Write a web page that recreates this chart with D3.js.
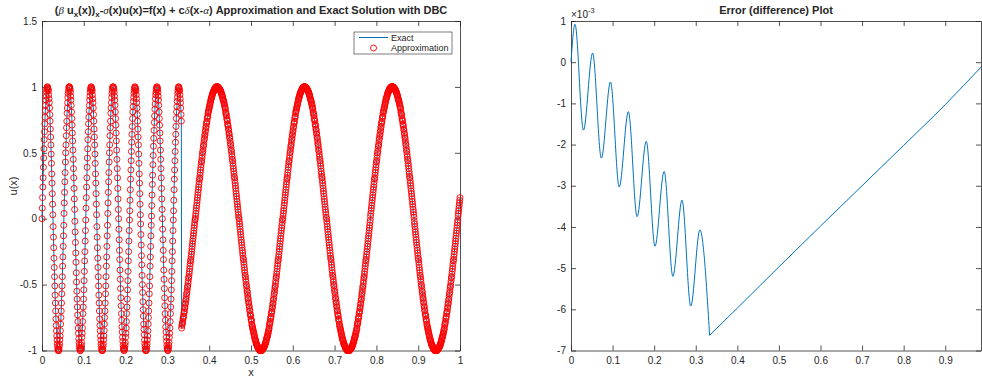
<!DOCTYPE html>
<html>
<head>
<meta charset="utf-8">
<script src="https://cdn.jsdelivr.net/npm/d3@7"></script>
<style>
  body { margin: 0; background: #fff; }
  svg text { font-family: "Liberation Sans", Arial, Helvetica, sans-serif; fill: #262626; }
</style>
</head>
<body>
<div id="chart"></div>
<script>
// approximation nodes are spaced evenly on [0, 1]
const xStep = 1 / 1500;

// u(x) at the nodes (exact and approximation overlap at this scale)
const uNodes = [
  0.00, 0.08, 0.16, 0.24, 0.31, 0.39, 0.46, 0.53, 0.60, 0.66, 0.72, 0.77, 0.82, 0.86, 0.90, 0.93, 0.96, 0.98, 0.99, 1.00,
  1.00, 0.99, 0.98, 0.97, 0.94, 0.91, 0.88, 0.84, 0.79, 0.74, 0.68, 0.62, 0.56, 0.49, 0.42, 0.34, 0.27, 0.19, 0.11, 0.03,
  -0.06, -0.14, -0.22, -0.30, -0.37, -0.44, -0.51, -0.58, -0.64, -0.70, -0.76, -0.81, -0.85, -0.89, -0.92, -0.95, -0.97, -0.99, -1.00,
  -1.00, -1.00, -0.99, -0.97, -0.95, -0.92, -0.89, -0.85, -0.80, -0.75, -0.70, -0.64, -0.57, -0.51, -0.44, -0.36, -0.29, -0.21, -0.13, -0.05,
  0.04, 0.12, 0.20, 0.28, 0.35, 0.43, 0.50, 0.56, 0.63, 0.69, 0.74, 0.80, 0.84, 0.88, 0.92, 0.95, 0.97, 0.99, 1.00, 1.00,
  1.00, 0.99, 0.98, 0.96, 0.93, 0.90, 0.86, 0.81, 0.76, 0.71, 0.65, 0.59, 0.52, 0.45, 0.38, 0.31, 0.23, 0.15, 0.07,
  -0.02, -0.10, -0.18, -0.26, -0.33, -0.41, -0.48, -0.55, -0.61, -0.67, -0.73, -0.78, -0.83, -0.87, -0.91, -0.94, -0.96, -0.98, -0.99, -1.00,
  -1.00, -0.99, -0.98, -0.96, -0.94, -0.90, -0.87, -0.83, -0.78, -0.72, -0.67, -0.61, -0.54, -0.47, -0.40, -0.32, -0.25, -0.17, -0.09, -0.01,
  0.08, 0.16, 0.24, 0.31, 0.39, 0.46, 0.53, 0.60, 0.66, 0.72, 0.77, 0.82, 0.86, 0.90, 0.93, 0.96, 0.98, 0.99, 1.00,
  1.00, 0.99, 0.98, 0.97, 0.94, 0.91, 0.88, 0.84, 0.79, 0.74, 0.68, 0.62, 0.56, 0.49, 0.42, 0.34, 0.27, 0.19, 0.11, 0.03,
  -0.06, -0.14, -0.22, -0.30, -0.37, -0.44, -0.51, -0.58, -0.64, -0.70, -0.76, -0.81, -0.85, -0.89, -0.92, -0.95, -0.97, -0.99, -1.00,
  -1.00, -1.00, -0.99, -0.97, -0.95, -0.92, -0.89, -0.85, -0.80, -0.75, -0.70, -0.64, -0.57, -0.51, -0.44, -0.36, -0.29, -0.21, -0.13, -0.05,
  0.04, 0.12, 0.20, 0.28, 0.35, 0.43, 0.50, 0.56, 0.63, 0.69, 0.74, 0.80, 0.84, 0.88, 0.92, 0.95, 0.97, 0.99, 1.00, 1.00,
  1.00, 0.99, 0.98, 0.96, 0.93, 0.90, 0.86, 0.81, 0.76, 0.71, 0.65, 0.59, 0.52, 0.45, 0.38, 0.31, 0.23, 0.15, 0.07,
  0.00, -0.08, -0.16, -0.24, -0.31, -0.39, -0.46, -0.53, -0.60, -0.66, -0.72, -0.77, -0.82, -0.86, -0.90, -0.93, -0.96, -0.98, -0.99, -1.00,
  -1.00, -0.99, -0.98, -0.96, -0.94, -0.90, -0.87, -0.83, -0.78, -0.72, -0.67, -0.61, -0.54, -0.47, -0.40, -0.32, -0.25, -0.17, -0.09, -0.01,
  0.06, 0.14, 0.22, 0.30, 0.37, 0.44, 0.51, 0.58, 0.64, 0.70, 0.76, 0.81, 0.85, 0.89, 0.92, 0.95, 0.97, 0.99, 1.00,
  1.00, 0.99, 0.98, 0.97, 0.94, 0.91, 0.88, 0.84, 0.79, 0.74, 0.68, 0.62, 0.56, 0.49, 0.42, 0.34, 0.27, 0.19, 0.11, 0.03,
  -0.04, -0.12, -0.20, -0.28, -0.35, -0.43, -0.50, -0.56, -0.63, -0.69, -0.74, -0.80, -0.84, -0.88, -0.92, -0.95, -0.97, -0.99, -1.00, -1.00,
  -1.00, -0.99, -0.97, -0.95, -0.92, -0.89, -0.85, -0.80, -0.75, -0.70, -0.64, -0.57, -0.51, -0.44, -0.36, -0.29, -0.21, -0.13, -0.05,
  0.02, 0.10, 0.18, 0.26, 0.33, 0.41, 0.48, 0.55, 0.61, 0.67, 0.73, 0.78, 0.83, 0.87, 0.91, 0.94, 0.96, 0.98, 0.99, 1.00,
  1.00, 0.99, 0.98, 0.96, 0.93, 0.90, 0.86, 0.81, 0.76, 0.71, 0.65, 0.59, 0.52, 0.45, 0.38, 0.31, 0.23, 0.15, 0.07,
  0.00, -0.08, -0.16, -0.24, -0.31, -0.39, -0.46, -0.53, -0.60, -0.66, -0.72, -0.77, -0.82, -0.86, -0.90, -0.93, -0.96, -0.98, -0.99, -1.00,
  -1.00, -0.99, -0.98, -0.96, -0.94, -0.90, -0.87, -0.83, -0.78, -0.72, -0.67, -0.61, -0.54, -0.47, -0.40, -0.32, -0.25, -0.17, -0.09, -0.01,
  0.06, 0.14, 0.22, 0.30, 0.37, 0.44, 0.51, 0.58, 0.64, 0.70, 0.76, 0.81, 0.85, 0.89, 0.92, 0.95, 0.97, 0.99, 1.00,
  1.00, 0.99, 0.98, 0.97, 0.94, 0.91, 0.88, 0.84, 0.79, 0.74,
  // x > 1/3
  -0.83, -0.81, -0.80, -0.79, -0.78, -0.76, -0.75, -0.74, -0.72, -0.71, -0.70, -0.68, -0.67, -0.65, -0.64, -0.62, -0.61, -0.59, -0.57, -0.56, -0.54, -0.52, -0.51, -0.49, -0.47, -0.45, -0.44, -0.42, -0.40, -0.38, -0.36, -0.34, -0.32, -0.31, -0.29, -0.27, -0.25, -0.23, -0.21, -0.19, -0.17, -0.15, -0.13, -0.11, -0.09, -0.07, -0.05, -0.03, -0.01,
  0.00, 0.02, 0.04, 0.06, 0.08, 0.10, 0.12, 0.14, 0.16, 0.18, 0.20, 0.22, 0.24, 0.26, 0.28, 0.30, 0.31, 0.33, 0.35, 0.37, 0.39, 0.41, 0.43, 0.44, 0.46, 0.48, 0.50, 0.51, 0.53, 0.55, 0.56, 0.58, 0.60, 0.61, 0.63, 0.64, 0.66, 0.67, 0.69, 0.70, 0.72, 0.73, 0.74, 0.76, 0.77, 0.78, 0.80, 0.81, 0.82, 0.83, 0.84, 0.85, 0.86, 0.87, 0.88, 0.89, 0.90, 0.91, 0.92, 0.92, 0.93, 0.94, 0.95, 0.95, 0.96, 0.96, 0.97, 0.97, 0.98, 0.98, 0.99, 0.99, 0.99, 0.99, 1.00, 1.00, 1.00, 1.00, 1.00,
  1.00, 1.00, 1.00, 1.00, 0.99, 0.99, 0.99, 0.99, 0.98, 0.98, 0.98, 0.97, 0.97, 0.96, 0.96, 0.95, 0.94, 0.94, 0.93, 0.92, 0.91, 0.90, 0.90, 0.89, 0.88, 0.87, 0.86, 0.85, 0.84, 0.83, 0.81, 0.80, 0.79, 0.78, 0.76, 0.75, 0.74, 0.72, 0.71, 0.70, 0.68, 0.67, 0.65, 0.64, 0.62, 0.61, 0.59, 0.57, 0.56, 0.54, 0.52, 0.51, 0.49, 0.47, 0.45, 0.44, 0.42, 0.40, 0.38, 0.36, 0.34, 0.32, 0.31, 0.29, 0.27, 0.25, 0.23, 0.21, 0.19, 0.17, 0.15, 0.13, 0.11, 0.09, 0.07, 0.05, 0.03, 0.01,
  0.00, -0.02, -0.04, -0.06, -0.08, -0.10, -0.12, -0.14, -0.16, -0.18, -0.20, -0.22, -0.24, -0.26, -0.28, -0.30, -0.31, -0.33, -0.35, -0.37, -0.39, -0.41, -0.43, -0.44, -0.46, -0.48, -0.50, -0.51, -0.53, -0.55, -0.56, -0.58, -0.60, -0.61, -0.63, -0.64, -0.66, -0.67, -0.69, -0.70, -0.72, -0.73, -0.74, -0.76, -0.77, -0.78, -0.80, -0.81, -0.82, -0.83, -0.84, -0.85, -0.86, -0.87, -0.88, -0.89, -0.90, -0.91, -0.92, -0.92, -0.93, -0.94, -0.95, -0.95, -0.96, -0.96, -0.97, -0.97, -0.98, -0.98, -0.99, -0.99, -0.99, -0.99, -1.00, -1.00, -1.00, -1.00, -1.00,
  -1.00, -1.00, -1.00, -1.00, -0.99, -0.99, -0.99, -0.99, -0.98, -0.98, -0.98, -0.97, -0.97, -0.96, -0.96, -0.95, -0.94, -0.94, -0.93, -0.92, -0.91, -0.90, -0.90, -0.89, -0.88, -0.87, -0.86, -0.85, -0.84, -0.83, -0.81, -0.80, -0.79, -0.78, -0.76, -0.75, -0.74, -0.72, -0.71, -0.70, -0.68, -0.67, -0.65, -0.64, -0.62, -0.61, -0.59, -0.57, -0.56, -0.54, -0.52, -0.51, -0.49, -0.47, -0.45, -0.44, -0.42, -0.40, -0.38, -0.36, -0.34, -0.32, -0.31, -0.29, -0.27, -0.25, -0.23, -0.21, -0.19, -0.17, -0.15, -0.13, -0.11, -0.09, -0.07, -0.05, -0.03, -0.01,
  0.00, 0.02, 0.04, 0.06, 0.08, 0.10, 0.12, 0.14, 0.16, 0.18, 0.20, 0.22, 0.24, 0.26, 0.28, 0.30, 0.31, 0.33, 0.35, 0.37, 0.39, 0.41, 0.43, 0.44, 0.46, 0.48, 0.50, 0.51, 0.53, 0.55, 0.56, 0.58, 0.60, 0.61, 0.63, 0.64, 0.66, 0.67, 0.69, 0.70, 0.72, 0.73, 0.74, 0.76, 0.77, 0.78, 0.80, 0.81, 0.82, 0.83, 0.84, 0.85, 0.86, 0.87, 0.88, 0.89, 0.90, 0.91, 0.92, 0.92, 0.93, 0.94, 0.95, 0.95, 0.96, 0.96, 0.97, 0.97, 0.98, 0.98, 0.99, 0.99, 0.99, 0.99, 1.00, 1.00, 1.00, 1.00, 1.00,
  1.00, 1.00, 1.00, 1.00, 0.99, 0.99, 0.99, 0.99, 0.98, 0.98, 0.98, 0.97, 0.97, 0.96, 0.96, 0.95, 0.94, 0.94, 0.93, 0.92, 0.91, 0.90, 0.90, 0.89, 0.88, 0.87, 0.86, 0.85, 0.84, 0.83, 0.81, 0.80, 0.79, 0.78, 0.76, 0.75, 0.74, 0.72, 0.71, 0.70, 0.68, 0.67, 0.65, 0.64, 0.62, 0.61, 0.59, 0.57, 0.56, 0.54, 0.52, 0.51, 0.49, 0.47, 0.45, 0.44, 0.42, 0.40, 0.38, 0.36, 0.34, 0.32, 0.31, 0.29, 0.27, 0.25, 0.23, 0.21, 0.19, 0.17, 0.15, 0.13, 0.11, 0.09, 0.07, 0.05, 0.03, 0.01, 0.00,
  -0.02, -0.04, -0.06, -0.08, -0.10, -0.12, -0.14, -0.16, -0.18, -0.20, -0.22, -0.24, -0.26, -0.28, -0.30, -0.31, -0.33, -0.35, -0.37, -0.39, -0.41, -0.43, -0.44, -0.46, -0.48, -0.50, -0.51, -0.53, -0.55, -0.56, -0.58, -0.60, -0.61, -0.63, -0.64, -0.66, -0.67, -0.69, -0.70, -0.72, -0.73, -0.74, -0.76, -0.77, -0.78, -0.80, -0.81, -0.82, -0.83, -0.84, -0.85, -0.86, -0.87, -0.88, -0.89, -0.90, -0.91, -0.92, -0.92, -0.93, -0.94, -0.95, -0.95, -0.96, -0.96, -0.97, -0.97, -0.98, -0.98, -0.99, -0.99, -0.99, -0.99, -1.00, -1.00, -1.00, -1.00, -1.00,
  -1.00, -1.00, -1.00, -1.00, -1.00, -0.99, -0.99, -0.99, -0.99, -0.98, -0.98, -0.98, -0.97, -0.97, -0.96, -0.96, -0.95, -0.94, -0.94, -0.93, -0.92, -0.91, -0.90, -0.90, -0.89, -0.88, -0.87, -0.86, -0.85, -0.84, -0.83, -0.81, -0.80, -0.79, -0.78, -0.76, -0.75, -0.74, -0.72, -0.71, -0.70, -0.68, -0.67, -0.65, -0.64, -0.62, -0.61, -0.59, -0.57, -0.56, -0.54, -0.52, -0.51, -0.49, -0.47, -0.45, -0.44, -0.42, -0.40, -0.38, -0.36, -0.34, -0.32, -0.31, -0.29, -0.27, -0.25, -0.23, -0.21, -0.19, -0.17, -0.15, -0.13, -0.11, -0.09, -0.07, -0.05, -0.03, -0.01,
  0.02, 0.04, 0.06, 0.08, 0.10, 0.12, 0.14, 0.16, 0.18, 0.20, 0.22, 0.24, 0.26, 0.28, 0.30, 0.31, 0.33, 0.35, 0.37, 0.39, 0.41, 0.43, 0.44, 0.46, 0.48, 0.50, 0.51, 0.53, 0.55, 0.56, 0.58, 0.60, 0.61, 0.63, 0.64, 0.66, 0.67, 0.69, 0.70, 0.72, 0.73, 0.74, 0.76, 0.77, 0.78, 0.80, 0.81, 0.82, 0.83, 0.84, 0.85, 0.86, 0.87, 0.88, 0.89, 0.90, 0.91, 0.92, 0.92, 0.93, 0.94, 0.95, 0.95, 0.96, 0.96, 0.97, 0.97, 0.98, 0.98, 0.99, 0.99, 0.99, 0.99, 1.00, 1.00, 1.00, 1.00, 1.00,
  1.00, 1.00, 1.00, 1.00, 1.00, 0.99, 0.99, 0.99, 0.99, 0.98, 0.98, 0.98, 0.97, 0.97, 0.96, 0.96, 0.95, 0.94, 0.94, 0.93, 0.92, 0.91, 0.90, 0.90, 0.89, 0.88, 0.87, 0.86, 0.85, 0.84, 0.83, 0.81, 0.80, 0.79, 0.78, 0.76, 0.75, 0.74, 0.72, 0.71, 0.70, 0.68, 0.67, 0.65, 0.64, 0.62, 0.61, 0.59, 0.57, 0.56, 0.54, 0.52, 0.51, 0.49, 0.47, 0.45, 0.44, 0.42, 0.40, 0.38, 0.36, 0.34, 0.32, 0.31, 0.29, 0.27, 0.25, 0.23, 0.21, 0.19, 0.17, 0.15, 0.13, 0.11, 0.09, 0.07, 0.05, 0.03, 0.01,
  -0.02, -0.04, -0.06, -0.08, -0.10, -0.12, -0.14, -0.16, -0.18, -0.20, -0.22, -0.24, -0.26, -0.28, -0.30, -0.31, -0.33, -0.35, -0.37, -0.39, -0.41, -0.43, -0.44, -0.46, -0.48, -0.50, -0.51, -0.53, -0.55, -0.56, -0.58, -0.60, -0.61, -0.63, -0.64, -0.66, -0.67, -0.69, -0.70, -0.72, -0.73, -0.74, -0.76, -0.77, -0.78, -0.80, -0.81, -0.82, -0.83, -0.84, -0.85, -0.86, -0.87, -0.88, -0.89, -0.90, -0.91, -0.92, -0.92, -0.93, -0.94, -0.95, -0.95, -0.96, -0.96, -0.97, -0.97, -0.98, -0.98, -0.99, -0.99, -0.99, -0.99, -1.00, -1.00, -1.00, -1.00, -1.00,
  -1.00, -1.00, -1.00, -1.00, -1.00, -0.99, -0.99, -0.99, -0.99, -0.98, -0.98, -0.98, -0.97, -0.97, -0.96, -0.96, -0.95, -0.94, -0.94, -0.93, -0.92, -0.91, -0.90, -0.90, -0.89, -0.88, -0.87, -0.86, -0.85, -0.84, -0.83, -0.81, -0.80, -0.79, -0.78, -0.76, -0.75, -0.74, -0.72, -0.71, -0.70, -0.68, -0.67, -0.65, -0.64, -0.62, -0.61, -0.59, -0.57, -0.56, -0.54, -0.52, -0.51, -0.49, -0.47, -0.45, -0.44, -0.42, -0.40, -0.38, -0.36, -0.34, -0.32, -0.31, -0.29, -0.27, -0.25, -0.23, -0.21, -0.19, -0.17, -0.15, -0.13, -0.11, -0.09, -0.07, -0.05, -0.03, -0.01,
  0.02, 0.04, 0.06, 0.08, 0.10, 0.12, 0.14, 0.16
];

// error curve (units of 1e-3), extrema
const errX = [0, 0.0096, 0.030, 0.052, 0.073, 0.095, 0.116, 0.138, 0.159, 0.181, 0.202, 0.224, 0.245, 0.267, 0.288, 0.310, 0.3333,
  0.4, 0.5, 0.6, 0.7, 0.8, 0.9, 0.986];
const errMilli = [0, 0.92, -1.65, 0.22, -2.33, -0.48, -3.03, -1.20, -3.75, -1.92, -4.47, -2.65, -5.20, -3.35, -5.92, -4.07, -6.63,
  -5.97, -4.97, -3.98, -3.00, -2.02, -1.03, -0.12];

const leftXTicks = [0, 0.1, 0.2, 0.3, 0.4, 0.5, 0.6, 0.7, 0.8, 0.9, 1];
const leftYTicks = [-1, -0.5, 0, 0.5, 1, 1.5];
const rightXTicks = [0, 0.1, 0.2, 0.3, 0.4, 0.5, 0.6, 0.7, 0.8, 0.9];
const rightYTicks = [-7, -6, -5, -4, -3, -2, -1, 0, 1];
const rightXLimit = [0, 0.986];

const legendLabels = ["Exact", "Approximation"];
const leftTitle = [
  { t: "(" }, { t: "β", greek: true }, { t: " u" }, { t: "x", sub: true }, { t: "(x))" }, { t: "x", sub: true },
  { t: "-" }, { t: "σ", greek: true }, { t: "(x)u(x)=f(x) + c" }, { t: "δ", greek: true }, { t: "(x-" },
  { t: "α", greek: true }, { t: ") Approximation and Exact Solution with DBC" }
];
const rightTitle = "Error (difference) Plot";

const BLUE = "#0072bd", INK = "#262626", FONT = "'Liberation Sans', Arial, Helvetica, sans-serif";

const svg = d3.select("#chart").append("svg")
    .attr("width", 982)
    .attr("height", 379);

const xL = d3.scaleLinear().domain([0, 1]).range([42, 460]);
const yL = d3.scaleLinear().domain([-1, 1.5]).range([350.5, 21]);
const xR = d3.scaleLinear().domain(rightXLimit).range([571, 981]);
const yR = d3.scaleLinear().domain([-7, 1]).range([350.5, 21]);

// box axes with inward ticks on all four sides, labels on bottom/left only
function drawFrame(xs, ys, xTicks, yTicks) {
    const [x0, x1] = xs.range();
    const [y0, y1] = ys.range();
    const fmt = d => String(d);
    const g = svg.append("g").attr("color", INK);

    g.append("g").attr("transform", `translate(0,${y0})`)
        .call(d3.axisBottom(xs).tickValues(xTicks).tickFormat(fmt).tickSize(-5).tickSizeOuter(0).tickPadding(6));
    g.append("g").attr("transform", `translate(0,${y1})`)
        .call(d3.axisTop(xs).tickValues(xTicks).tickFormat("").tickSize(-5).tickSizeOuter(0));
    g.append("g").attr("transform", `translate(${x0},0)`)
        .call(d3.axisLeft(ys).tickValues(yTicks).tickFormat(fmt).tickSize(-5).tickSizeOuter(0).tickPadding(5));
    g.append("g").attr("transform", `translate(${x1},0)`)
        .call(d3.axisRight(ys).tickValues(yTicks).tickFormat("").tickSize(-5).tickSizeOuter(0));

    g.selectAll("g").attr("font-family", FONT).attr("font-size", 10);
    g.selectAll("line, path").attr("stroke-width", 0.8);
}

drawFrame(xL, yL, leftXTicks, leftYTicks);
drawFrame(xR, yR, rightXTicks, rightYTicks);

// left panel: exact line with approximation circles on top
const nodes = uNodes.map((u, i) => ({ x: i * xStep, u: u }));

svg.append("path")
    .datum(nodes)
    .attr("d", d3.line().x(d => xL(d.x)).y(d => yL(d.u)))
    .attr("fill", "none")
    .attr("stroke", BLUE)
    .attr("stroke-width", 1);

svg.append("g").selectAll("circle")
    .data(nodes)
    .join("circle")
    .attr("cx", d => xL(d.x))
    .attr("cy", d => yL(d.u))
    .attr("r", 3)
    .attr("fill", "none")
    .attr("stroke", "#ff0000")
    .attr("stroke-width", 0.9);

// right panel: error, drawn in two pieces so the corner at x = 1/3 stays sharp
const errPts = errX.map((x, i) => ({ x: x, e: errMilli[i] }));
const kink = d3.minIndex(errMilli);
const errLine = d3.line().x(d => xR(d.x)).y(d => yR(d.e)).curve(d3.curveMonotoneX);
[errPts.slice(0, kink + 1), errPts.slice(kink)].forEach(part => {
    svg.append("path")
        .datum(part)
        .attr("d", errLine)
        .attr("fill", "none")
        .attr("stroke", BLUE)
        .attr("stroke-width", 1);
});

// titles and labels
const t1 = svg.append("text")
    .attr("x", 251)
    .attr("y", 14)
    .attr("text-anchor", "middle")
    .attr("font-size", 11)
    .attr("font-weight", "bold");
let lowered = false;
leftTitle.forEach(p => {
    const s = t1.append("tspan").text(p.t);
    if (p.sub) {
        s.attr("font-size", 8).attr("dy", 3);
        lowered = true;
    } else if (lowered) {
        s.attr("dy", -3);
        lowered = false;
    }
    if (p.greek) {
        s.attr("font-family", "'Liberation Serif', 'DejaVu Serif', serif")
            .attr("font-style", "italic")
            .attr("font-weight", "normal");
    }
});

svg.append("text")
    .attr("x", 776)
    .attr("y", 14)
    .attr("text-anchor", "middle")
    .attr("font-size", 11)
    .attr("font-weight", "bold")
    .text(rightTitle);

svg.append("text")
    .attr("transform", "translate(17,186) rotate(-90)")
    .attr("text-anchor", "middle")
    .attr("font-size", 11)
    .text("u(x)");

svg.append("text")
    .attr("x", 251)
    .attr("y", 376)
    .attr("text-anchor", "middle")
    .attr("font-size", 11)
    .text("x");

const expo = svg.append("text")
    .attr("x", 571)
    .attr("y", 18)
    .attr("font-size", 10);
expo.append("tspan").text("×10");
expo.append("tspan").attr("font-size", 7.5).attr("dy", -5).text("-3");

// legend
const lg = svg.append("g");
lg.append("rect")
    .attr("x", 354).attr("y", 32)
    .attr("width", 98).attr("height", 22)
    .attr("fill", "#fff")
    .attr("stroke", INK)
    .attr("stroke-width", 0.6);
lg.append("line")
    .attr("x1", 359).attr("x2", 388)
    .attr("y1", 37.5).attr("y2", 37.5)
    .attr("stroke", BLUE)
    .attr("stroke-width", 1);
lg.append("circle")
    .attr("cx", 373.5).attr("cy", 48)
    .attr("r", 3)
    .attr("fill", "none")
    .attr("stroke", "#ff0000")
    .attr("stroke-width", 0.9);
lg.selectAll("text")
    .data(legendLabels)
    .join("text")
    .attr("x", 391)
    .attr("y", (d, i) => 40.5 + i * 10.5)
    .attr("font-size", 9)
    .text(d => d);
</script>
</body>
</html>
